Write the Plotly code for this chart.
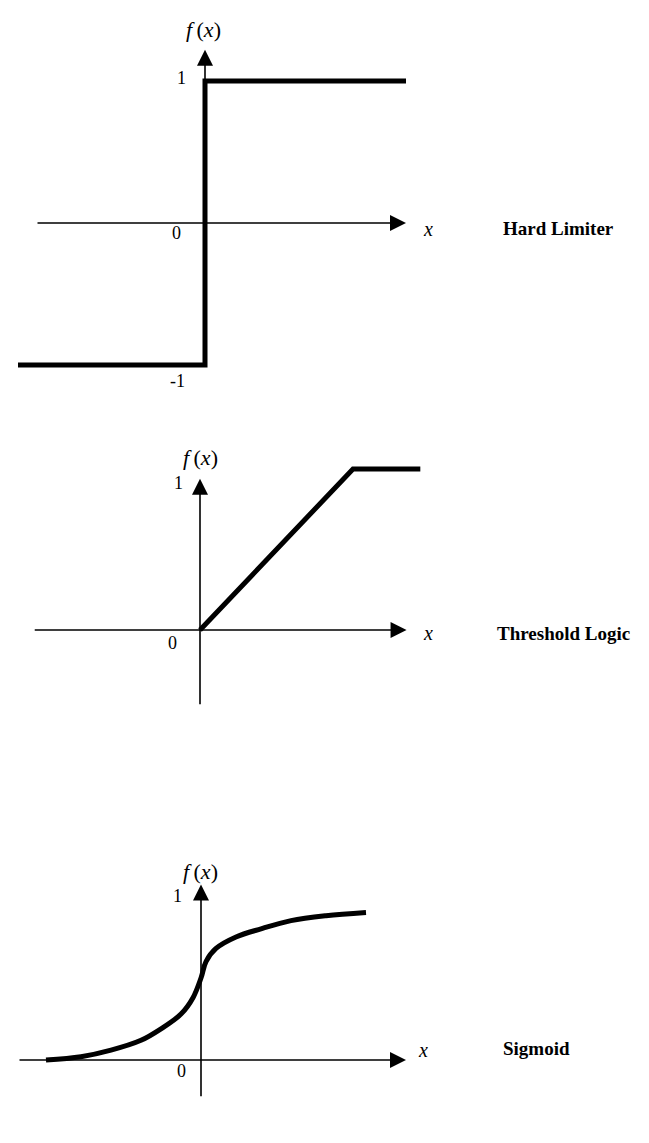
import plotly.graph_objects as go

W, H = 649, 1143

# ---------------- data (math units) ----------------
# Hard limiter
hl_x = [-1.87, 0.0, 0.0, 2.01]
hl_y = [-1.0, -1.0, 1.0, 1.0]
# Threshold logic
th_x = [0.0, 1.0, 1.44]
th_y = [0.0, 1.0, 1.0]
# Sigmoid
sg_x = [-1.55, -1.2, -0.9, -0.6, -0.4, -0.2, -0.08, 0.0, 0.05, 0.15, 0.35, 0.6, 0.9, 1.25, 1.65]
sg_y = [0.0, 0.02, 0.06, 0.12, 0.19, 0.28, 0.38, 0.5, 0.6, 0.68, 0.75, 0.80, 0.85, 0.88, 0.90]

titles = ["Hard Limiter", "Threshold Logic", "Sigmoid"]
tick_one = "1"
tick_zero = "0"
tick_neg = "-1"
fx_text = "<i>f</i>\u2009(<i>x</i>)"
x_text = "<i>x</i>"

# ---------------- layout helpers ----------------
panels = [
    dict(band=(0, 400), ox=197, oy=215, ux=100, uy=142),
    dict(band=(400, 760), ox=192, oy=622, ux=153, uy=161),
    dict(band=(760, 1143), ox=193, oy=1052, ux=100, uy=164),
]

fig = go.Figure()
layout = dict(width=W, height=H, margin=dict(l=0, r=0, t=0, b=0),
              paper_bgcolor="white", plot_bgcolor="rgba(0,0,0,0)", showlegend=False)

for i, p in enumerate(panels, start=1):
    t, b = p["band"]
    xr = [(0 - p["ox"]) / p["ux"], (W - p["ox"]) / p["ux"]]
    yr = [(p["oy"] - b) / p["uy"], (p["oy"] - t) / p["uy"]]
    sx = "" if i == 1 else str(i)
    layout["xaxis" + sx] = dict(domain=[0, 1], range=xr, visible=False, anchor="y" + sx, fixedrange=True)
    layout["yaxis" + sx] = dict(domain=[1 - b / H, 1 - t / H], range=yr, visible=False, anchor="x" + sx, fixedrange=True)

fig.update_layout(**layout)

line_style = dict(color="black", width=5)
fig.add_trace(go.Scatter(x=hl_x, y=hl_y, mode="lines", line=line_style, xaxis="x", yaxis="y"))
fig.add_trace(go.Scatter(x=th_x, y=th_y, mode="lines", line=line_style, xaxis="x2", yaxis="y2"))
fig.add_trace(go.Scatter(x=sg_x, y=sg_y, mode="lines", line=dict(color="black", width=5, shape="spline", smoothing=1.0),
                         xaxis="x3", yaxis="y3"))

serif = "Liberation Serif"

def axis_arrow(xref, yref, x0, y0, x1, y1):
    fig.add_annotation(x=x1, y=y1, ax=x0, ay=y0, xref=xref, yref=yref, axref=xref, ayref=yref,
                       showarrow=True, arrowhead=2, arrowsize=2.0, arrowwidth=1.6, arrowcolor="black",
                       text="", standoff=0)

def label(xref, yref, x, y, text, size=18, bold=False, xanchor="center"):
    fig.add_annotation(x=x, y=y, xref=xref, yref=yref, text=("<b>%s</b>" % text) if bold else text,
                       showarrow=False, font=dict(family=serif, size=size, color="black"),
                       xanchor=xanchor, yanchor="middle")

# Panel 1
axis_arrow("x", "y", -1.69, 0, 2.01, 0)
axis_arrow("x", "y", 0, 0, 0, 1.22)
label("x", "y", -0.02, 1.36, fx_text, size=22)
label("x", "y", -0.24, 1.02, tick_one)
label("x", "y", -0.29, -0.07, tick_zero)
label("x", "y", -0.28, -1.11, tick_neg)
label("x", "y", 2.23, -0.04, x_text, size=20)
label("x", "y", 2.96, -0.04, titles[0], size=19, bold=True, xanchor="left")

# Panel 2
axis_arrow("x2", "y2", -1.09, 0, 1.35, 0)
axis_arrow("x2", "y2", 0, -0.47, 0, 0.94)
label("x2", "y2", 0.0, 1.07, fx_text, size=22)
label("x2", "y2", -0.14, 0.91, tick_one)
label("x2", "y2", -0.18, -0.08, tick_zero)
label("x2", "y2", 1.49, -0.02, x_text, size=20)
label("x2", "y2", 1.93, -0.02, titles[1], size=19, bold=True, xanchor="left")

# Panel 3
axis_arrow("x3", "y3", -1.83, 0, 2.05, 0)
axis_arrow("x3", "y3", 0, -0.23, 0, 1.07)
label("x3", "y3", -0.01, 1.15, fx_text, size=22)
label("x3", "y3", -0.24, 1.0, tick_one)
label("x3", "y3", -0.2, -0.07, tick_zero)
label("x3", "y3", 2.22, 0.06, x_text, size=20)
label("x3", "y3", 3.0, 0.07, titles[2], size=19, bold=True, xanchor="left")

fig.write_html("out.html")
